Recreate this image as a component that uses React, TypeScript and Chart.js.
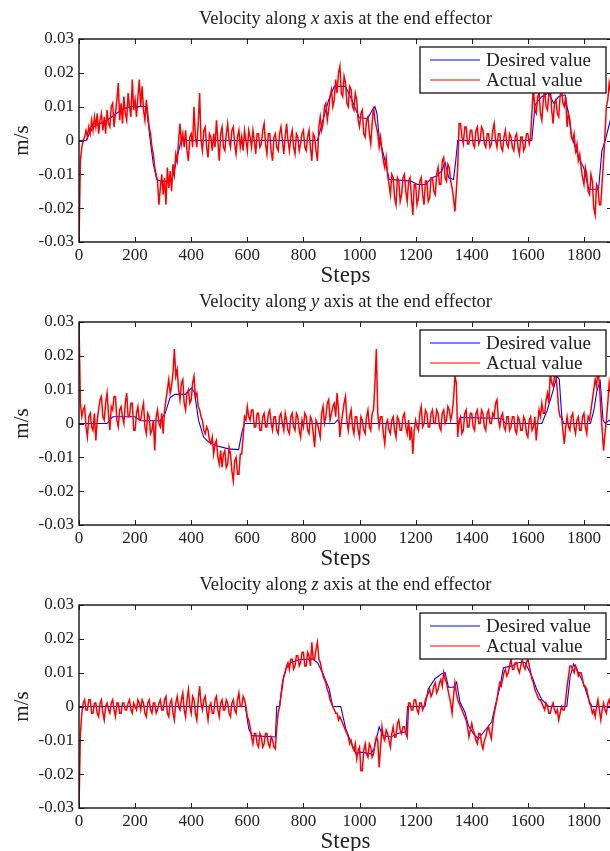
import React, { useEffect, useRef } from "react";
import { Chart, registerables } from "chart.js";

Chart.register(...registerables);

const FONT = "'Liberation Serif', 'Times New Roman', serif";

// sampling interval (steps) of the actual-value series
const SAMPLE_INTERVAL = 5;

const X_TICKS = [0, 200, 400, 600, 800, 1000, 1200, 1400, 1600, 1800];
const Y_TICKS = [-0.03, -0.02, -0.01, 0, 0.01, 0.02, 0.03];

// ---------- x axis velocity ----------
const xDesiredSteps = [0, 25, 50, 100, 150, 180, 240, 254, 265, 277, 290, 331, 350, 364, 850, 870, 890, 910, 950, 970, 999, 1030, 1045, 1055, 1062, 1070, 1088, 1106, 1183, 1207, 1237, 1257, 1275, 1293, 1305, 1318, 1335, 1343, 1350, 1614, 1626, 1650, 1674, 1692, 1710, 1733, 1745, 1757, 1781, 1799, 1817, 1852, 1864, 1876, 1900];
const xDesiredValues = [0, 0, 0.004, 0.006, 0.009, 0.01, 0.01, 0.0, -0.007, -0.0115, -0.012, -0.012, -0.005, 0, 0, 0.006, 0.012, 0.016, 0.016, 0.0125, 0.0067, 0.0065, 0.009, 0.01, 0.008, 0.001, -0.005, -0.0115, -0.012, -0.013, -0.013, -0.011, -0.0105, -0.009, -0.0065, -0.011, -0.0115, -0.006, 0, 0, 0.0106, 0.013, 0.014, 0.011, 0.013, 0.0135, 0.0076, 0.001, -0.005, -0.008, -0.0144, -0.0144, -0.003, 0, 0.008];
const xActual = [
  -0.030, -0.006, -0.002, 0.000, 0.001, 0.003, 0.001, 0.004, 0.002, 0.006,
  0.003, 0.007, 0.004, 0.008, 0.002, 0.006, 0.008, 0.003, 0.007, 0.002,
  0.009, 0.005, 0.004, 0.010, 0.011, 0.004, 0.008, 0.012, 0.017, 0.006,
  0.011, 0.005, 0.013, 0.008, 0.006, 0.014, 0.010, 0.007, 0.018, 0.009,
  0.012, 0.007, 0.013, 0.018, 0.010, 0.016, 0.009, 0.006, 0.012, 0.008,
  0.004, 0.002, -0.002, -0.004, -0.008, -0.010, -0.012, -0.019, -0.014, -0.010,
  -0.016, -0.011, -0.019, -0.008, -0.014, -0.009, -0.015, -0.007, -0.010, -0.004,
  -0.006, 0.000, 0.005, -0.001, 0.002, -0.002, 0.003, -0.003, -0.006, 0.001,
  0.002, -0.002, 0.010, 0.001, -0.002, 0.005, 0.014, 0.000, -0.003, 0.003,
  0.004, -0.002, -0.005, 0.002, 0.001, -0.003, 0.002, -0.002, 0.006, 0.000,
  -0.006, 0.002, 0.004, -0.002, -0.003, 0.002, 0.005, 0.000, -0.002, 0.003,
  0.004, -0.001, -0.004, 0.001, 0.003, -0.002, 0.001, -0.003, 0.003, 0.000,
  -0.003, 0.003, 0.001, -0.002, 0.003, 0.000, -0.004, 0.002, 0.002, -0.002,
  -0.001, 0.003, 0.005, -0.001, -0.004, 0.002, 0.002, -0.003, -0.006, 0.001,
  0.002, -0.002, -0.003, 0.002, 0.004, 0.000, -0.004, 0.001, 0.005, 0.000,
  -0.003, 0.001, 0.003, -0.002, -0.004, 0.002, 0.001, -0.003, -0.001, 0.002,
  0.003, -0.002, -0.003, 0.001, 0.003, -0.002, -0.006, 0.002, 0.001, -0.003,
  -0.006, 0.004, 0.007, 0.003, 0.005, 0.010, 0.011, 0.006, 0.009, 0.013,
  0.015, 0.010, 0.012, 0.018, 0.014, 0.020, 0.022, 0.014, 0.013, 0.019,
  0.017, 0.011, 0.010, 0.016, 0.015, 0.010, 0.009, 0.014, 0.012, 0.006,
  0.004, 0.008, 0.009, 0.002, 0.001, 0.006, 0.007, 0.002, -0.001, 0.005,
  0.010, 0.006, 0.004, 0.002, -0.002, 0.001, -0.003, -0.006, -0.008, -0.005,
  -0.010, -0.013, -0.016, -0.010, -0.011, -0.017, -0.019, -0.011, -0.012, -0.018,
  -0.016, -0.011, -0.010, -0.015, -0.018, -0.012, -0.011, -0.017, -0.022, -0.013,
  -0.013, -0.019, -0.017, -0.012, -0.011, -0.016, -0.019, -0.012, -0.012, -0.018,
  -0.017, -0.011, -0.011, -0.015, -0.016, -0.010, -0.008, -0.013, -0.013, -0.006,
  -0.005, -0.011, -0.012, -0.007, -0.008, -0.012, -0.014, -0.017, -0.021, -0.015,
  -0.008, 0.005, 0.005, 0.001, -0.001, 0.004, 0.004, -0.001, -0.001, 0.003,
  0.003, -0.001, -0.002, 0.003, 0.004, -0.001, 0.000, 0.004, 0.003, -0.001,
  -0.002, 0.002, 0.002, -0.002, -0.001, 0.003, 0.005, 0.000, -0.002, 0.002,
  0.002, -0.002, -0.003, 0.001, 0.003, -0.001, -0.002, 0.002, 0.001, -0.002,
  -0.003, 0.001, 0.002, -0.002, -0.004, 0.001, 0.001, -0.003, -0.002, 0.002,
  0.002, -0.001, 0.001, 0.009, 0.016, 0.009, 0.008, 0.013, 0.014, 0.008,
  0.006, 0.012, 0.015, 0.010, 0.009, 0.014, 0.016, 0.009, 0.005, 0.011,
  0.012, 0.008, 0.007, 0.013, 0.016, 0.011, 0.010, 0.013, 0.004, 0.008,
  0.006, 0.001, 0.000, 0.002, -0.003, -0.001, -0.006, -0.004, -0.008, -0.011,
  -0.013, -0.008, -0.010, -0.015, -0.016, -0.010, -0.012, -0.020, -0.022, -0.013,
  -0.014, -0.019, -0.019, -0.012, -0.006, 0.002, 0.010, 0.012, 0.017, 0.014,
  0.015,
];

// ---------- y axis velocity ----------
const yDesiredSteps = [0, 100, 120, 200, 220, 290, 307, 325, 343, 379, 402, 412, 426, 444, 462, 490, 533, 569, 581, 590, 910, 921, 930, 1355, 1360, 1507, 1520, 1650, 1668, 1686, 1704, 1712, 1721, 1727, 1823, 1835, 1846, 1858, 1868, 1876, 1900];
const yDesiredValues = [0, 0, 0.002, 0.002, 0.0008, 0.0008, 0.003, 0.0077, 0.0086, 0.0086, 0.0106, 0.009, 0.001, -0.004, -0.0055, -0.0066, -0.0075, -0.0077, -0.0025, 0, 0, 0.001, 0, 0, 0.0018, 0.0015, 0, 0, 0.0037, 0.0086, 0.014, 0.013, 0.002, 0, 0, 0.0037, 0.0096, 0.0125, 0.001, 0, 0.0015];
const yActual = [
  0.030, 0.006, 0.002, 0.004, 0.005, -0.001, -0.004, 0.002, 0.003, -0.001,
  -0.002, 0.003, -0.005, 0.001, 0.004, 0.007, 0.008, 0.002, 0.001, 0.006,
  0.009, 0.003, -0.002, 0.005, 0.004, 0.008, 0.008, 0.001, -0.001, 0.004,
  0.005, 0.002, 0.000, 0.006, 0.009, 0.002, 0.002, 0.006, 0.006, -0.002,
  -0.002, 0.003, 0.005, 0.001, 0.001, 0.004, 0.006, -0.001, -0.003, 0.003,
  0.002, -0.003, -0.002, 0.001, -0.008, 0.002, 0.004, 0.000, -0.001, 0.003,
  -0.003, 0.004, 0.007, 0.010, 0.013, 0.009, 0.011, 0.015, 0.022, 0.014,
  0.016, 0.010, 0.007, 0.012, 0.013, 0.006, 0.004, 0.009, 0.010, 0.006,
  0.007, 0.012, 0.014, 0.008, 0.009, 0.005, 0.004, 0.002, 0.001, -0.002,
  -0.003, -0.001, -0.002, -0.005, -0.006, -0.004, -0.009, -0.006, -0.005, -0.010,
  -0.012, -0.008, -0.013, -0.009, -0.008, -0.013, -0.012, -0.007, -0.009, -0.014,
  -0.017, -0.011, -0.010, -0.015, -0.015, -0.009, -0.009, -0.004, 0.002, 0.001,
  0.005, 0.002, 0.001, 0.004, 0.004, -0.001, -0.001, 0.003, 0.003, -0.002,
  -0.002, 0.002, 0.003, -0.001, -0.001, 0.003, 0.004, 0.000, -0.002, 0.002,
  0.002, -0.002, -0.003, 0.002, 0.003, 0.000, -0.002, 0.003, 0.001, -0.002,
  -0.003, 0.002, 0.003, -0.001, -0.002, 0.003, 0.002, -0.002, -0.004, 0.001,
  -0.001, 0.003, 0.002, -0.002, -0.003, 0.002, 0.001, -0.003, -0.007, 0.001,
  0.000, -0.002, -0.004, 0.003, 0.005, 0.000, 0.002, 0.006, 0.007, 0.001,
  0.003, 0.005, 0.006, 0.002, 0.009, 0.004, -0.004, 0.000, 0.003, 0.006,
  0.008, 0.001, -0.002, 0.002, 0.004, -0.001, -0.003, 0.002, 0.002, -0.002,
  -0.004, 0.002, 0.001, -0.002, -0.003, 0.002, 0.004, -0.001, -0.002, 0.003,
  0.004, 0.012, 0.022, 0.003, -0.001, 0.002, 0.002, -0.003, -0.006, 0.000,
  0.001, -0.002, -0.003, 0.001, 0.002, -0.002, -0.004, 0.002, 0.001, -0.002,
  -0.002, 0.002, 0.003, -0.001, -0.003, 0.001, -0.005, -0.001, -0.009, -0.002,
  0.001, -0.001, -0.002, 0.003, 0.005, -0.001, 0.000, 0.004, 0.003, -0.001,
  -0.001, 0.003, 0.004, 0.000, 0.000, 0.004, 0.003, -0.001, -0.002, 0.003,
  0.004, 0.000, 0.001, 0.005, 0.004, 0.001, 0.003, 0.007, 0.014, 0.012,
  -0.004, 0.001, 0.002, -0.003, -0.002, 0.003, 0.004, -0.001, -0.001, 0.003,
  0.003, -0.001, -0.002, 0.003, 0.004, 0.000, 0.000, 0.004, 0.003, -0.001,
  -0.002, 0.003, 0.004, 0.000, 0.000, 0.003, 0.002, 0.006, 0.007, 0.001,
  -0.001, 0.002, 0.003, -0.001, -0.002, 0.002, 0.002, -0.002, -0.001, 0.002,
  0.002, -0.002, -0.003, 0.002, 0.001, -0.002, -0.002, 0.002, 0.001, -0.003,
  -0.004, 0.001, 0.002, -0.002, -0.001, 0.002, -0.005, 0.000, 0.004, 0.002,
  0.006, 0.003, 0.003, 0.007, 0.009, 0.006, 0.015, 0.012, 0.011, 0.014,
  0.014, 0.010, 0.004, 0.002, 0.002, -0.002, -0.006, -0.001, 0.002, -0.001,
  -0.002, 0.002, 0.003, -0.001, -0.003, 0.001, 0.002, -0.002, -0.002, 0.002,
  0.003, -0.001, -0.003, 0.002, 0.001, 0.004, 0.007, 0.010, 0.013, 0.011,
  0.016, 0.012, 0.004, -0.002, -0.008, -0.003, 0.001, 0.006, 0.012, 0.009,
  0.006,
];

// ---------- z axis velocity ----------
const zDesiredSteps = [0, 593, 605, 617, 700, 705, 715, 725, 737, 755, 790, 832, 850, 868, 892, 904, 933, 951, 969, 987, 1005, 1040, 1052, 1070, 1082, 1112, 1136, 1166, 1171, 1233, 1245, 1269, 1293, 1305, 1317, 1335, 1346, 1358, 1376, 1388, 1406, 1424, 1442, 1471, 1483, 1501, 1513, 1543, 1567, 1590, 1614, 1632, 1650, 1674, 1739, 1751, 1763, 1781, 1799, 1817, 1829, 1900];
const zDesiredValues = [0, 0, -0.0066, -0.0086, -0.009, 0, 0, 0.0072, 0.011, 0.013, 0.0139, 0.014, 0.013, 0.01, 0.0052, 0, 0, -0.0066, -0.0105, -0.014, -0.0135, -0.014, -0.0125, -0.006, -0.0086, -0.009, -0.008, -0.0075, 0, 0, 0.0052, 0.0082, 0.0097, 0.01, 0.0057, 0.0057, 0.0072, 0.0013, -0.0017, -0.0056, -0.008, -0.0096, -0.0076, -0.0046, 0, 0.006, 0.0115, 0.012, 0.013, 0.013, 0.009, 0.005, 0.002, 0, 0, 0.009, 0.0125, 0.01, 0.0067, 0.002, 0, 0];
const zActual = [
  -0.030, -0.008, -0.002, 0.001, 0.002, -0.001, -0.001, 0.002, 0.002, -0.002,
  -0.002, 0.001, 0.001, -0.002, -0.003, 0.001, 0.002, -0.002, -0.004, 0.000,
  0.001, -0.001, -0.002, 0.001, 0.002, -0.001, -0.003, 0.001, 0.001, -0.002,
  -0.002, 0.001, 0.001, -0.001, -0.001, 0.001, 0.002, -0.001, -0.002, 0.001,
  0.000, -0.001, 0.002, 0.001, -0.001, 0.002, 0.001, -0.002, -0.003, 0.001,
  0.002, -0.001, -0.002, 0.001, 0.001, -0.002, -0.001, 0.001, 0.002, -0.001,
  -0.001, 0.002, 0.003, -0.002, -0.003, 0.001, 0.002, -0.002, -0.004, 0.001,
  0.003, 0.000, -0.001, 0.002, 0.004, -0.001, -0.003, 0.002, 0.005, 0.000,
  -0.002, 0.003, 0.002, -0.002, -0.004, 0.002, 0.006, 0.001, -0.001, 0.002,
  0.003, -0.001, -0.004, 0.000, 0.001, -0.002, -0.002, 0.002, 0.003, -0.001,
  -0.003, 0.001, 0.002, -0.001, -0.001, 0.002, 0.001, -0.002, -0.003, 0.001,
  0.002, -0.001, -0.002, 0.002, 0.004, 0.000, 0.000, 0.003, 0.002, 0.000,
  -0.003, -0.004, -0.006, -0.009, -0.011, -0.008, -0.008, -0.011, -0.012, -0.008,
  -0.009, -0.012, -0.011, -0.008, -0.008, -0.011, -0.012, -0.009, -0.010, -0.012,
  -0.0125, -0.006, -0.002, 0.000, 0.003, 0.006, 0.009, 0.010, 0.012, 0.013,
  0.011, 0.014, 0.014, 0.011, 0.012, 0.015, 0.015, 0.012, 0.013, 0.016,
  0.016, 0.012, 0.012, 0.016, 0.015, 0.012, 0.019, 0.014, 0.014, 0.017,
  0.019, 0.014, 0.013, 0.011, 0.009, 0.008, 0.007, 0.005, 0.004, 0.002,
  0.001, 0.000, -0.001, -0.002, -0.002, -0.004, -0.003, -0.004, -0.005, -0.006,
  -0.007, -0.008, -0.009, -0.011, -0.010, -0.012, -0.013, -0.011, -0.0155, -0.013,
  -0.012, -0.019, -0.019, -0.013, -0.011, -0.014, -0.015, -0.011, -0.012, -0.015,
  -0.014, -0.011, -0.009, -0.010, -0.018, -0.012, -0.006, -0.009, -0.010, -0.007,
  -0.008, -0.010, -0.012, -0.008, -0.006, -0.009, -0.009, -0.005, -0.004, -0.007,
  -0.008, -0.006, -0.006, -0.008, -0.009, 0.001, 0.001, -0.001, -0.001, 0.002,
  0.002, -0.001, -0.002, 0.001, 0.001, -0.001, 0.000, 0.002, 0.003, 0.004,
  0.005, 0.003, 0.004, 0.006, 0.007, 0.004, 0.005, 0.007, 0.008, 0.006,
  0.010, 0.008, 0.007, 0.005, 0.003, 0.001, -0.002, 0.003, 0.007, 0.004,
  0.002, 0.001, 0.000, -0.001, -0.002, -0.003, -0.004, -0.006, -0.009, -0.007,
  -0.005, -0.007, -0.008, -0.010, -0.011, -0.008, -0.008, -0.011, -0.0125, -0.010,
  -0.009, -0.007, -0.006, -0.008, -0.0095, -0.005, -0.002, 0.000, 0.002, 0.005,
  0.007, 0.006, 0.008, 0.010, 0.011, 0.009, 0.010, 0.012, 0.014, 0.011,
  0.011, 0.013, 0.013, 0.011, 0.010, 0.012, 0.014, 0.012, 0.011, 0.013,
  0.014, 0.012, 0.010, 0.008, 0.007, 0.005, 0.004, 0.003, 0.002, 0.002,
  0.001, 0.000, -0.001, 0.001, 0.000, -0.002, -0.002, 0.000, 0.001, -0.001,
  -0.002, -0.001, -0.004, -0.002, 0.000, -0.001, -0.001, 0.002, 0.006, 0.009,
  0.012, 0.012, 0.011, 0.010, 0.012, 0.011, 0.009, 0.010, 0.010, 0.008,
  0.006, 0.006, 0.005, 0.003, 0.001, 0.000, -0.002, -0.001, -0.003, 0.000,
  0.002, -0.001, -0.004, -0.001, 0.001, -0.001, -0.002, 0.001, 0.002, 0.000,
  0.001,
];

const PANELS = [
  { axis: "x", top: 0, desiredSteps: xDesiredSteps, desiredValues: xDesiredValues, actual: xActual },
  { axis: "y", top: 283, desiredSteps: yDesiredSteps, desiredValues: yDesiredValues, actual: yActual },
  { axis: "z", top: 566, desiredSteps: zDesiredSteps, desiredValues: zDesiredValues, actual: zActual },
];

const CANVAS_W = 612;
const CANVAS_H = 285;

const fmtY = (v: number) => {
  const r = Math.round(v * 100) / 100;
  return r === 0 ? "0" : r.toFixed(2);
};

function makeFramePlugin(axisLetter: string) {
  return {
    id: "frame",
    afterDraw(chart: any) {
      const { ctx, chartArea } = chart;
      const { left, right, top, bottom } = chartArea;
      const xs = chart.scales.x;
      const ys = chart.scales.y;
      ctx.save();
      // inward tick marks
      ctx.strokeStyle = "#222";
      ctx.lineWidth = 1;
      ctx.beginPath();
      X_TICKS.forEach((v) => {
        const p = Math.round(xs.getPixelForValue(v)) + 0.5;
        ctx.moveTo(p, top);
        ctx.lineTo(p, top + 5);
        ctx.moveTo(p, bottom);
        ctx.lineTo(p, bottom - 5);
      });
      Y_TICKS.forEach((v) => {
        const p = Math.round(ys.getPixelForValue(v)) + 0.5;
        ctx.moveTo(left, p);
        ctx.lineTo(left + 5, p);
        ctx.moveTo(right, p);
        ctx.lineTo(right - 5, p);
      });
      ctx.stroke();
      // frame
      ctx.lineWidth = 1.4;
      ctx.strokeStyle = "#111";
      ctx.strokeRect(left, top, right - left, bottom - top);

      // title
      const parts = [
        { t: "Velocity along ", f: `18.5px ${FONT}` },
        { t: axisLetter, f: `italic 18.5px ${FONT}` },
        { t: " axis at the end effector", f: `18.5px ${FONT}` },
      ];
      let total = 0;
      parts.forEach((p) => {
        ctx.font = p.f;
        total += ctx.measureText(p.t).width;
      });
      let x = (left + right) / 2 - total / 2;
      ctx.fillStyle = "#222";
      ctx.textBaseline = "middle";
      ctx.textAlign = "left";
      parts.forEach((p) => {
        ctx.font = p.f;
        ctx.fillText(p.t, x, 19);
        x += ctx.measureText(p.t).width;
      });

      // legend
      const lw = 186;
      const lh = 46;
      const lr = right - 6;
      const ll = lr - lw;
      const lt = top + 8;
      ctx.fillStyle = "#fff";
      ctx.fillRect(ll, lt, lw, lh);
      ctx.lineWidth = 1.3;
      ctx.strokeStyle = "#111";
      ctx.strokeRect(ll, lt, lw, lh);
      ctx.font = `19px ${FONT}`;
      chart.data.datasets.forEach((ds: any, i: number) => {
        const cy = lt + 13 + i * 20;
        ctx.strokeStyle = ds.borderColor;
        ctx.lineWidth = 1.2;
        ctx.beginPath();
        ctx.moveTo(ll + 10, cy);
        ctx.lineTo(ll + 60, cy);
        ctx.stroke();
        ctx.fillStyle = "#222";
        ctx.fillText(ds.label, ll + 66, cy + 1);
      });
      ctx.restore();
    },
  };
}

function Panel({ panel }: { panel: (typeof PANELS)[number] }) {
  const ref = useRef<HTMLCanvasElement | null>(null);
  useEffect(() => {
    if (!ref.current) return;
    const desired = panel.desiredSteps.map((s, i) => ({ x: s, y: panel.desiredValues[i] }));
    const actual = panel.actual.map((v, i) => ({ x: i * SAMPLE_INTERVAL, y: v }));
    const chart = new Chart(ref.current, {
      type: "line",
      data: {
        datasets: [
          {
            label: "Desired value",
            data: desired,
            borderColor: "#0000ff",
            borderWidth: 1.1,
            pointRadius: 0,
            tension: 0,
            order: 1,
          },
          {
            label: "Actual value",
            data: actual,
            borderColor: "#ff0000",
            borderWidth: 1.5,
            pointRadius: 0,
            tension: 0,
            order: 0,
          },
        ],
      },
      options: {
        animation: false,
        responsive: false,
        maintainAspectRatio: false,
        devicePixelRatio: 1,
        layout: { padding: { top: 39, left: 0, right: 0, bottom: 0 } },
        plugins: {
          legend: { display: false },
          tooltip: { enabled: false },
          title: { display: false },
        },
        scales: {
          x: {
            type: "linear",
            min: 0,
            max: 1900,
            afterFit: (s: any) => {
              s.height = CANVAS_H - 242;
            },
            afterBuildTicks: (s: any) => {
              s.ticks = X_TICKS.map((v) => ({ value: v }));
            },
            ticks: {
              font: { family: FONT, size: 17 },
              color: "#222",
              padding: 3,
              maxRotation: 0,
              autoSkip: false,
              callback: (v: any) => String(v),
            },
            grid: { display: false, drawTicks: false },
            border: { display: false },
            title: {
              display: true,
              text: "Steps",
              font: { family: FONT, size: 23, lineHeight: 0.8 },
              color: "#222",
              padding: { top: 0, bottom: 0 },
            },
          },
          y: {
            type: "linear",
            min: -0.03,
            max: 0.03,
            afterFit: (s: any) => {
              s.width = 79;
            },
            afterBuildTicks: (s: any) => {
              s.ticks = Y_TICKS.map((v) => ({ value: v }));
            },
            ticks: {
              font: { family: FONT, size: 17 },
              color: "#222",
              padding: 5,
              callback: (v: any) => fmtY(Number(v)),
            },
            grid: { display: false, drawTicks: false },
            border: { display: false },
            title: {
              display: true,
              text: "m/s",
              font: { family: FONT, size: 21, lineHeight: 1 },
              color: "#222",
              padding: { top: 12, bottom: 0 },
            },
          },
        },
      },
      plugins: [makeFramePlugin(panel.axis)],
    } as any);
    return () => chart.destroy();
  }, [panel]);
  return (
    <canvas
      ref={ref}
      width={CANVAS_W}
      height={CANVAS_H}
      style={{ position: "absolute", left: 0, top: panel.top, width: CANVAS_W, height: CANVAS_H, display: "block" }}
    />
  );
}

export default function App() {
  return (
    <div
      style={{
        position: "absolute",
        left: 0,
        top: 0,
        width: 610,
        height: 851,
        overflow: "hidden",
        background: "#fff",
      }}
    >
      {PANELS.map((p) => (
        <Panel key={p.axis} panel={p} />
      ))}
    </div>
  );
}
